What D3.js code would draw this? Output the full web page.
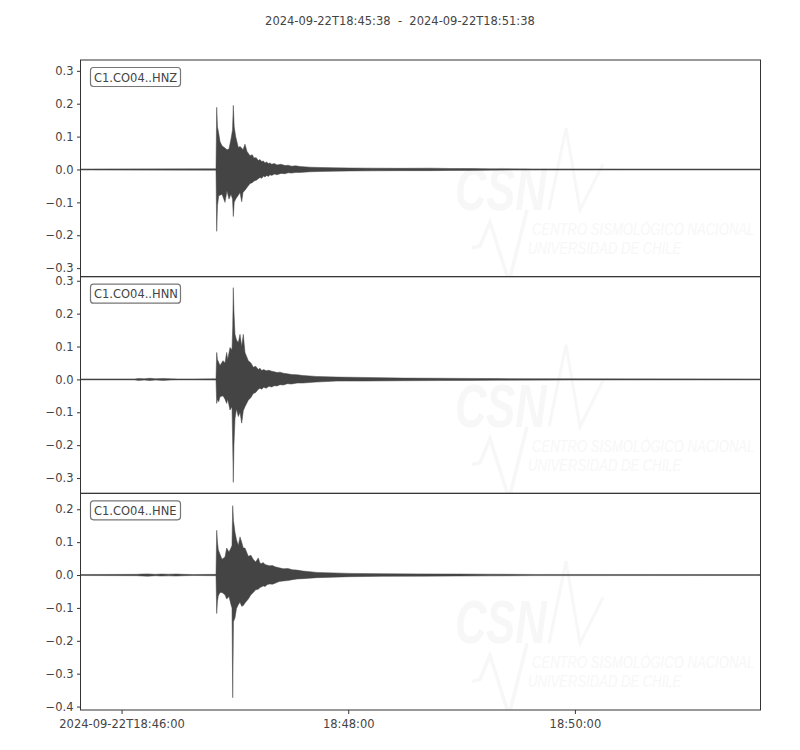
<!DOCTYPE html>
<meta charset="utf-8">
<script src="https://d3js.org/d3.v7.min.js"></script>
<style>
   body {
      background-color: white;
      margin: 0;
      padding: 0;
      font-family: "DejaVu Sans", sans-serif;
   }
</style>

<body>
   <svg id="seismo" width="800" height="750"></svg>
   <script>

      // time window of the plot
      var startTime = "2024-09-22T18:45:38";
      var endTime = "2024-09-22T18:51:38";
      var channels = ["C1.CO04..HNZ", "C1.CO04..HNN", "C1.CO04..HNE"];

      var xTickTimes = ["2024-09-22T18:46:00", "2024-09-22T18:48:00", "2024-09-22T18:50:00"];
      var xTickLabels = ["2024-09-22T18:46:00", "18:48:00", "18:50:00"];

      var yTicksHNZ = [0.3, 0.2, 0.1, 0.0, -0.1, -0.2, -0.3];
      var yTicksHNN = [0.3, 0.2, 0.1, 0.0, -0.1, -0.2, -0.3];
      var yTicksHNE = [0.2, 0.1, 0.0, -0.1, -0.2, -0.3, -0.4];

      // envelope of each trace (max / min per time window), seconds after start
      var hnzTime = [0, 72.0, 72.37, 72.79, 73.43, 74.12, 75.18, 76.76, 77.82, 78.88,
         79.94, 80.74, 81.16, 81.64, 82.43, 83.81, 84.71, 85.61, 86.29, 87.35,
         88.41, 90.0, 91.2, 92.12, 93.3, 94.39, 95.3, 96.2, 97.1, 97.94, 98.8, 99.7, 100.6, 101.49,
         102.9, 104.3, 106.4, 108.53, 110.2, 112.0, 114.2, 116.47, 121.8, 127.06, 135.0, 142.94, 155.0, 169.41,
         185.3, 195.88, 206.5, 217.06, 240, 300, 360];
      var hnzUpper = [0.0015, 0.002, 0.189, 0.13, 0.11, 0.085, 0.072, 0.065, 0.06, 0.062,
         0.093, 0.12, 0.195, 0.13, 0.10, 0.067, 0.07, 0.065, 0.06, 0.077,
         0.055, 0.042, 0.045, 0.035, 0.036, 0.027, 0.03, 0.024, 0.026, 0.02, 0.023, 0.018, 0.02, 0.016,
         0.018, 0.014, 0.016, 0.012, 0.013, 0.01, 0.011, 0.009, 0.007, 0.006, 0.005, 0.0045, 0.004, 0.0035,
         0.004, 0.003, 0.0028, 0.002, 0.0018, 0.0015, 0.0015];
      var hnzLower = [-0.0015, -0.002, -0.188, -0.11, -0.08, -0.078, -0.075, -0.10, -0.065, -0.09,
         -0.075, -0.09, -0.143, -0.10, -0.09, -0.078, -0.07, -0.098, -0.07, -0.063,
         -0.055, -0.043, -0.04, -0.035, -0.033, -0.028, -0.024, -0.027, -0.02, -0.023, -0.018, -0.021, -0.016, -0.018,
         -0.014, -0.016, -0.012, -0.013, -0.01, -0.011, -0.009, -0.009, -0.007, -0.006, -0.005, -0.0045, -0.004, -0.0035,
         -0.0035, -0.003, -0.0028, -0.002, -0.0018, -0.0015, -0.0015];

      var hnnTime = [0, 29, 31, 34, 37, 40, 44, 48, 52, 60,
         72.0, 72.37, 72.79, 73.43, 74.12, 75.71, 76.76, 77.66, 78.19, 79.41,
         80.47, 80.85, 81.16, 81.5, 82.06, 82.85, 83.81, 84.71, 85.61, 86.45,
         87.35, 89.1, 90.5, 91.75, 93.0, 94.4, 95.3, 96.19, 97.3, 98.5, 100.0, 101.49, 102.9, 104.3,
         105.9, 107.63, 109.8, 112.0, 115.0, 118.06, 125.0, 136.06, 150.0, 171.0, 190.0, 206.47, 220,
         260, 360];
      var hnnUpper = [0.0015, 0.0015, 0.003, 0.002, 0.0035, 0.002, 0.003, 0.002, 0.0015, 0.0015,
         0.002, 0.082, 0.06, 0.052, 0.042, 0.057, 0.05, 0.082, 0.06, 0.097,
         0.09, 0.16, 0.279, 0.207, 0.137, 0.12, 0.112, 0.137, 0.10, 0.137,
         0.082, 0.057, 0.05, 0.037, 0.04, 0.03, 0.034, 0.027, 0.03, 0.026, 0.028, 0.025, 0.023, 0.021,
         0.022, 0.019, 0.017, 0.015, 0.014, 0.012, 0.009, 0.007, 0.006, 0.004, 0.0035, 0.003, 0.0025,
         0.0018, 0.0015];
      var hnnLower = [-0.0015, -0.0015, -0.003, -0.002, -0.0035, -0.002, -0.003, -0.002, -0.0015, -0.0015,
         -0.002, -0.073, -0.06, -0.068, -0.053, -0.05, -0.06, -0.073, -0.06, -0.093,
         -0.083, -0.2, -0.313, -0.2, -0.12, -0.09, -0.113, -0.1, -0.133, -0.095,
         -0.083, -0.063, -0.055, -0.043, -0.04, -0.03, -0.027, -0.03, -0.024, -0.027, -0.021, -0.023, -0.019, -0.02,
         -0.016, -0.017, -0.013, -0.014, -0.011, -0.011, -0.008, -0.005, -0.005, -0.004, -0.0035, -0.003, -0.0025,
         -0.0018, -0.0015];

      var hneTime = [0, 30, 33, 36, 40, 43, 47, 51, 55, 60,
         72.0, 72.37, 72.79, 73.22, 74.12, 75.18, 76.76, 77.66, 78.88, 79.94,
         80.47, 80.85, 81.25, 82.06, 82.85, 83.81, 84.71, 85.61, 86.45, 87.35,
         89.1, 90.5, 91.75, 93.0, 94.39, 95.3, 96.2, 97.0, 97.94, 99.2, 100.5, 101.9, 103.24, 105.4, 107.63,
         110.0, 112.5, 114.88, 118.0, 125.47, 142.94, 160, 180, 200, 217.06, 240, 360];
      var hneUpper = [0.0015, 0.002, 0.003, 0.0035, 0.002, 0.003, 0.0025, 0.003, 0.002, 0.0015,
         0.002, 0.136, 0.10, 0.077, 0.063, 0.048, 0.055, 0.082, 0.07, 0.082,
         0.09, 0.211, 0.166, 0.13, 0.107, 0.09, 0.116, 0.1, 0.082, 0.082,
         0.057, 0.06, 0.047, 0.04, 0.052, 0.036, 0.035, 0.038, 0.032, 0.03, 0.028, 0.029, 0.025, 0.022, 0.019,
         0.02, 0.016, 0.015, 0.012, 0.008, 0.005, 0.004, 0.0035, 0.003, 0.0025, 0.0018, 0.0015];
      var hneLower = [-0.0015, -0.002, -0.003, -0.0035, -0.002, -0.003, -0.0025, -0.003, -0.002, -0.0015,
         -0.002, -0.117, -0.08, -0.063, -0.053, -0.053, -0.06, -0.073, -0.065, -0.09,
         -0.1, -0.373, -0.142, -0.13, -0.102, -0.09, -0.083, -0.095, -0.093, -0.085,
         -0.073, -0.06, -0.053, -0.045, -0.043, -0.038, -0.036, -0.033, -0.035, -0.029, -0.027, -0.028, -0.025, -0.02, -0.018,
         -0.017, -0.014, -0.012, -0.011, -0.008, -0.005, -0.004, -0.0035, -0.003, -0.0025, -0.0018, -0.0015];

      var svg = d3.select("#seismo");
      var ink = "#444";
      var fontSize = "11.5px";

      var margin = { left: 80, right: 40, top: 60, bottom: 40 };
      var width = 800, height = 750;
      var panelH = (height - margin.top - margin.bottom) / channels.length;

      var parseT = d3.utcParse("%Y-%m-%dT%H:%M:%S");
      var t0 = parseT(startTime);

      var x = d3.scaleUtc()
         .domain([t0, parseT(endTime)])
         .range([margin.left, width - margin.right]);

      function build(time, up, lo) {
         return time.map(function (t, i) {
            return { t: new Date(t0.getTime() + t * 1000), hi: up[i], lo: lo[i] };
         });
      }

      var traces = [
         { id: channels[0], data: build(hnzTime, hnzUpper, hnzLower), ticks: yTicksHNZ },
         { id: channels[1], data: build(hnnTime, hnnUpper, hnnLower), ticks: yTicksHNN },
         { id: channels[2], data: build(hneTime, hneUpper, hneLower), ticks: yTicksHNE }
      ];

      // same amplitude range in every panel, centred on each trace
      var maxRange = d3.max(traces, function (tr) {
         return d3.max(tr.data, d => d.hi) - d3.min(tr.data, d => d.lo);
      });
      var half = maxRange / 2 * 1.113;

      // title
      svg.append("text")
         .attr("x", width / 2)
         .attr("y", 25)
         .attr("text-anchor", "middle")
         .style("white-space", "pre")
         .style("font-size", fontSize)
         .style("fill", ink)
         .text(startTime + "  -  " + endTime);

      // squeezed italic text for the watermark
      function wmText(sel, str, px, py, sx, size, bold) {
         sel.append("text")
            .attr("transform", "translate(" + px + "," + py + ") scale(" + sx + ",1)")
            .style("font-family", "'Liberation Sans', sans-serif")
            .style("font-weight", bold ? "bold" : "normal")
            .style("font-style", "italic")
            .style("font-size", size + "px")
            .style("fill", "#f7f7f7")
            .text(str);
      }

      traces.forEach(function (tr, k) {
         var top = margin.top + k * panelH;
         var mid = (d3.max(tr.data, d => d.hi) + d3.min(tr.data, d => d.lo)) / 2;

         var y = d3.scaleLinear()
            .domain([mid - half, mid + half])
            .range([top + panelH, top]);

         var g = svg.append("g");

         svg.append("clipPath").attr("id", "clip" + k)
            .append("rect")
            .attr("x", margin.left).attr("y", top)
            .attr("width", width - margin.left - margin.right)
            .attr("height", panelH);

         var inside = g.append("g").attr("clip-path", "url(#clip" + k + ")");

         // faint CSN watermark
         var wm = inside.append("g")
            .attr("transform", "translate(0," + top + ")");
         wmText(wm, "CSN", 455, 150, 0.7, 62, true);
         wm.append("path")
            .attr("d", "M549,150 L566,68 L580,150 L603,104")
            .attr("fill", "none").attr("stroke", "#f7f7f7").attr("stroke-width", 3);
         wm.append("path")
            .attr("d", "M472,188 L480,186 L490,162 L509,222 L527,150")
            .attr("fill", "none").attr("stroke", "#f7f7f7").attr("stroke-width", 3.5);
         wmText(wm, "CENTRO SISMOLÓGICO NACIONAL", 532, 175, 0.77, 17, false);
         wmText(wm, "UNIVERSIDAD DE CHILE", 528, 194, 0.77, 17, false);

         // the trace envelope
         var area = d3.area()
            .x(d => x(d.t))
            .y0(d => y(d.lo))
            .y1(d => y(d.hi));

         inside.append("path")
            .datum(tr.data)
            .attr("d", area)
            .attr("fill", ink)
            .attr("stroke", ink)
            .attr("stroke-width", 0.5);

         // frame
         g.append("rect")
            .attr("x", margin.left + 0.5).attr("y", top)
            .attr("width", width - margin.left - margin.right)
            .attr("height", panelH)
            .attr("fill", "none")
            .attr("stroke", "#333")
            .attr("stroke-width", 1);

         // y axis
         var yAxis = d3.axisLeft(y)
            .tickValues(tr.ticks)
            .tickSize(3.5)
            .tickPadding(3.5)
            .tickFormat(d3.format(".1f"));
         var ya = g.append("g")
            .attr("transform", "translate(" + (margin.left + 0.5) + ",0)")
            .call(yAxis);
         ya.select(".domain").remove();
         ya.selectAll("line").attr("stroke", "#333");
         ya.selectAll("text")
            .style("font-family", "'DejaVu Sans', sans-serif")
            .style("font-size", fontSize)
            .style("fill", ink);

         // channel label
         g.append("rect")
            .attr("x", margin.left + 10.5).attr("y", top + 7.5)
            .attr("width", 90).attr("height", 19)
            .attr("rx", 3).attr("ry", 3)
            .attr("fill", "white")
            .attr("stroke", "#777")
            .attr("stroke-width", 1.2);
         g.append("text")
            .attr("x", margin.left + 14).attr("y", top + 21.5)
            .style("font-size", fontSize)
            .style("fill", ink)
            .text(tr.id);

         // time axis on the last panel only
         if (k === traces.length - 1) {
            var xAxis = d3.axisBottom(x)
               .tickValues(xTickTimes.map(parseT))
               .tickSize(4)
               .tickPadding(6)
               .tickFormat(function (d, i) { return xTickLabels[i]; });
            var xa = g.append("g")
               .attr("transform", "translate(0," + (top + panelH) + ")")
               .call(xAxis);
            xa.select(".domain").remove();
            xa.selectAll("line").attr("stroke", "#333");
            xa.selectAll("text")
               .style("font-family", "'DejaVu Sans', sans-serif")
               .style("font-size", fontSize)
               .style("fill", ink);
         }
      });

   </script>
</body>
